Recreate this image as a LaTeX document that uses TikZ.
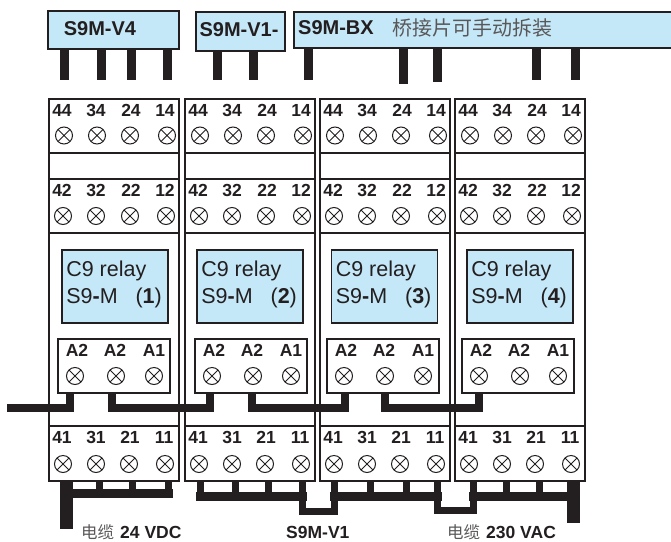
\documentclass[tikz,border=0pt]{standalone}
\usepackage{fontspec}
\setmainfont{Liberation Sans}
\newfontfamily\cjk{Noto Sans CJK SC}
\usetikzlibrary{positioning, calc}
\definecolor{relayblue}{HTML}{C5E8F8}
\definecolor{inkblack}{HTML}{231F20}

\begin{document}
\begin{tikzpicture}[x=1pt, y=-1pt,
    bar/.style={draw=inkblack, line width=1.8, fill=relayblue, inner sep=0},
    frame/.style={draw=inkblack, line width=2, inner sep=0},
    term/.style={circle, draw=inkblack, line width=1, minimum size=17, inner sep=0,
      path picture={\draw[inkblack, line width=1]
        (path picture bounding box.north west) -- (path picture bounding box.south east)
        (path picture bounding box.north east) -- (path picture bounding box.south west);}},
    num/.style={font=\fontsize{17.5}{17.5}\selectfont\bfseries, text=inkblack, inner sep=0},
    title/.style={font=\fontsize{20}{20}\selectfont\bfseries, text=inkblack, inner sep=0},
    note/.style={font=\fontsize{17.5}{17.5}\selectfont\bfseries, text=inkblack, inner sep=0, anchor=west},
    cable/.style={font=\cjk\fontsize{16.5}{16.5}\selectfont, text=inkblack!75, inner sep=0, anchor=west},
    relaytext/.style={font=\fontsize{21.5}{21.5}\selectfont, text=inkblack, inner sep=0, anchor=west},
    pin/.style={draw=inkblack, line width=9},
    wire/.style={draw=inkblack, line width=8.5},
    stub/.style={draw=inkblack, line width=7},
    bus/.style={draw=inkblack, line width=9, line cap=rect},
    lead/.style={draw=inkblack, line width=13}]
  \useasboundingbox (0,0) rectangle (671,541);

  % Relay modules
  \foreach \n/\x/\b/\a in {1/49/115/114, 2/185/250/251, 3/320/384.5/383, 4/455/520/518} {
    \node[frame, minimum width=130, minimum height=382] (m\n) at (\x+65,290) {};
    \foreach \y in {153,179,233,426}
      \draw[frame] (m\n.west |- 0,\y) -- (m\n.east |- 0,\y);
    % Upper terminals
    \foreach \t/\o/\c in {44/13/15, 34/47/48, 24/82/81, 14/116/118} {
      \node[num] (l\n-\t) at (\x+\o,110) {\t};
      \node[term] (t\n-\t) at (\x+\c,135.5) {};
    }
    \foreach \t/\o/\c in {42/13/14, 32/47/47, 22/82/81, 12/116/117} {
      \node[num] (l\n-\t) at (\x+\o,190) {\t};
      \node[term] (t\n-\t) at (\x+\c,216) {};
    }
    % Lower terminals
    \foreach \t/\o/\c in {41/13/14, 31/47/47, 21/81/80, 11/115/116} {
      \node[num] (l\n-\t) at (\x+\o,437) {\t};
      \node[term] (t\n-\t) at (\x+\c,464) {};
    }
    % Relay label
    \node[bar, minimum width=106, minimum height=73] (r\n) at (\b,286.5) {};
    \node[relaytext] (r\n-a) at ($(r\n.west)+(5,-16)$) {C9 relay};
    \node[relaytext] (r\n-b) at ($(r\n.west)+(5,11)$) {S9{\bfseries -}M\ \ \ ({\bfseries \n})};
    % Coil terminals
    \node[frame, minimum width=112, minimum height=54] (c\n) at (\a,366) {};
    \foreach \k/\t/\o/\c in {p/A2/-37/-39, q/A2/1/2, s/A1/40/40} {
      \node[num] (cl\n-\k) at (\a+\o,350) {\t};
      \node[term] (ct\n-\k) at (\a+\c,376) {};
    }
  }

  % Bridge bars on top
  \node[bar, minimum width=131, minimum height=38] (v4) at (113.5,30) {};
  \node[bar, minimum width=89, minimum height=39] (v1) at (240.5,31.5) {};
  \node[bar, minimum width=379, minimum height=36] (bx) at (483.5,30) {};
  \node[title] (v4t) at (100,29) {S9M-V4};
  \node[title] (v1t) at (239,30) {S9M-V1-};
  \node[title, anchor=west] (bxt) at (298,28) {S9M-BX};
  \node[font=\cjk\fontsize{20}{20}\selectfont, text=inkblack!75, inner sep=0, anchor=west] (bxn) at (392,28) {桥接片可手动拆装};
  \foreach \i/\x in {1/64.5, 2/101, 3/131.5, 4/167} {
    \coordinate (pa\i) at (\x,80);
    \draw[pin] (pa\i |- v4.south) -- (pa\i);
  }
  \foreach \i/\x in {1/217, 2/253.5} {
    \coordinate (pb\i) at (\x,80);
    \draw[pin] (pb\i |- v1.south) -- (pb\i);
  }
  \foreach \i/\x/\y in {1/308/80, 2/403/84, 3/437/82, 4/536/80, 5/575/80} {
    \coordinate (pc\i) at (\x,\y);
    \draw[pin] (pc\i |- bx.south) -- (pc\i);
  }

  % Coil wiring
  \coordinate (w0) at (7,408);
  \foreach \i/\x in {1/70, 2/112, 3/210, 4/252, 5/345, 6/385, 7/479}
    \coordinate (w\i) at (\x,393);
  \draw[wire] (w0) -| (w1);
  \draw[wire] (w2) -- ++(0,15) -| (w3);
  \draw[wire] (w4) -- ++(0,15) -| (w5);
  \draw[wire] (w6) -- ++(0,15) -| (w7);

  % Lower bridges
  \foreach \n/\xa/\xb/\xc/\xd/\y/\e in {1/66/99/132/168/493/497, 2/200/235/268/302/496/501,
      3/334/370/406/437/496/501, 4/473/506/539/573/496/501} {
    \foreach \s/\x in {a/\xa, b/\xb, c/\xc, d/\xd} {
      \coordinate (s\n-\s) at (\x,480);
      \draw[stub] (s\n-\s) -- (s\n-\s |- 0,\e);
    }
    \draw[bus] (s\n-a |- 0,\y) -- (s\n-d |- 0,\y);
  }
  \coordinate (e1) at (66.5,529);
  \coordinate (e2) at (573.5,523);
  \draw[lead] (s1-a -| e1) -- (e1);
  \draw[lead] (s4-d -| e2) -- (e2);
  \draw[stub] (s2-d) -- ++(0,31) -| (s3-a);
  \draw[stub] (s3-d) -- ++(0,30) -| (s4-a);

  % Cable labels
  \node[cable] (n1a) at (81,532) {电缆};
  \node[note] (n1b) at (120,532) {24 VDC};
  \node[note] (n2) at (286,532) {S9M-V1};
  \node[cable] (n3a) at (447,532) {电缆};
  \node[note] (n3b) at (486,532) {230 VAC};
\end{tikzpicture}
\end{document}
